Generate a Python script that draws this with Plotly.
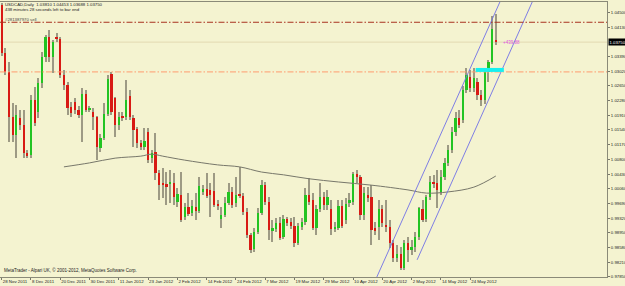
import plotly.graph_objects as go

# ---------------- data ----------------
opens = [
    1.0468, 1.0348, 1.0300, 1.0187, 1.0141, 1.0184, 1.0166, 1.0096, 1.0091, 1.0229,
    1.0199, 1.0272, 1.0338, 1.0388, 1.0338, 1.0388, 1.0383, 1.0292, 1.0267, 1.0212,
    1.0224, 1.0204, 1.0192, 1.0244, 1.0206, 1.0199, 1.0187, 1.0109, 1.0134, 1.0194,
    1.0295, 1.0234, 1.0166, 1.0187, 1.0186, 1.0239, 1.0184, 1.0156, 1.0121, 1.0111,
    1.0149, 1.0083, 1.0098, 1.0046, 1.0018, 1.0017, 1.0020, 1.0020, 0.9973, 0.9990,
    0.9935, 0.9960, 0.9945, 0.9960, 0.9950, 1.0000, 1.0005, 1.0003, 1.0000, 0.9968,
    0.9930, 0.9940, 0.9970, 0.9998, 0.9970, 0.9993, 0.9988, 0.9947, 0.9890, 0.9854,
    0.9897, 0.9945, 1.0015, 0.9973, 0.9900, 0.9905, 0.9920, 0.9885, 0.9930, 0.9922,
    0.9912, 0.9869, 0.9910, 0.9922, 0.9990, 0.9978, 0.9907, 0.9955, 0.9985, 0.9965,
    0.9955, 0.9905, 0.9907, 0.9963, 0.9927, 0.9970, 0.9973, 1.0043, 1.0036, 0.9940,
    0.9990, 0.9985, 0.9907, 0.9910, 0.9955, 0.9915, 0.9910, 0.9869, 0.9832, 0.9842,
    0.9806, 0.9869, 0.9852, 0.9859, 0.9885, 0.9955, 0.9930, 0.9985, 1.0023, 1.0020,
    0.9998, 1.0036, 1.0071, 1.0103, 1.0149, 1.0184, 1.0179, 1.0254, 1.0287, 1.0260,
    1.0275, 1.0242, 1.0229, 1.0300, 1.0325, 1.0381,
]
highs = [
    1.0473, 1.0360, 1.0325, 1.0222, 1.0217, 1.0204, 1.0204, 1.0103, 1.0242, 1.0262,
    1.0285, 1.0350, 1.0393, 1.0405, 1.0380, 1.0398, 1.0388, 1.0305, 1.0275, 1.0224,
    1.0234, 1.0214, 1.0260, 1.0254, 1.0214, 1.0209, 1.0189, 1.0144, 1.0222, 1.0292,
    1.0300, 1.0237, 1.0199, 1.0199, 1.0280, 1.0254, 1.0192, 1.0161, 1.0129, 1.0159,
    1.0159, 1.0103, 1.0146, 1.0053, 1.0058, 1.0048, 1.0053, 1.0046, 1.0008, 1.0048,
    0.9970, 0.9995, 0.9978, 0.9995, 1.0036, 1.0015, 1.0046, 1.0020, 1.0046, 0.9978,
    0.9960, 0.9985, 1.0020, 1.0010, 1.0036, 1.0061, 0.9995, 0.9957, 0.9895, 0.9907,
    0.9957, 1.0028, 1.0023, 0.9985, 0.9927, 0.9932, 0.9935, 0.9940, 0.9935, 0.9932,
    0.9935, 0.9920, 0.9932, 1.0008, 1.0033, 0.9995, 0.9965, 1.0020, 0.9998, 1.0003,
    0.9978, 0.9922, 0.9978, 0.9978, 0.9983, 0.9995, 1.0048, 1.0053, 1.0041, 1.0010,
    1.0010, 1.0015, 0.9922, 0.9978, 0.9965, 0.9978, 0.9927, 0.9877, 0.9864, 0.9859,
    0.9877, 0.9885, 0.9877, 0.9897, 0.9960, 0.9978, 0.9990, 1.0038, 1.0041, 1.0053,
    1.0053, 1.0083, 1.0116, 1.0161, 1.0199, 1.0204, 1.0265, 1.0310, 1.0305, 1.0310,
    1.0285, 1.0254, 1.0310, 1.0330, 1.0441, 1.04453,
]
lows = [
    1.0340, 1.0292, 1.0124, 1.0124, 1.0083, 1.0154, 1.0083, 1.0083, 1.0083, 1.0164,
    1.0184, 1.0260, 1.0325, 1.0325, 1.0297, 1.0375, 1.0285, 1.0254, 1.0192, 1.0187,
    1.0194, 1.0184, 1.0124, 1.0199, 1.0199, 1.0154, 1.0078, 1.0098, 1.0129, 1.0189,
    1.0192, 1.0136, 1.0154, 1.0176, 1.0179, 1.0179, 1.0111, 1.0109, 1.0103, 1.0103,
    1.0071, 1.0071, 1.0028, 0.9978, 0.9983, 0.9965, 0.9970, 0.9965, 0.9960, 0.9922,
    0.9927, 0.9937, 0.9937, 0.9927, 0.9945, 0.9990, 0.9983, 0.9935, 0.9960, 0.9952,
    0.9907, 0.9935, 0.9965, 0.9957, 0.9960, 0.9983, 0.9940, 0.9882, 0.9844, 0.9847,
    0.9892, 0.9940, 0.9965, 0.9877, 0.9872, 0.9897, 0.9877, 0.9879, 0.9912, 0.9905,
    0.9859, 0.9864, 0.9902, 0.9915, 0.9965, 0.9902, 0.9890, 0.9947, 0.9952, 0.9952,
    0.9890, 0.9897, 0.9902, 0.9907, 0.9917, 0.9960, 0.9965, 1.0020, 0.9927, 0.9927,
    0.9973, 0.9864, 0.9890, 0.9877, 0.9910, 0.9897, 0.9857, 0.9822, 0.9822, 0.9801,
    0.9801, 0.9822, 0.9839, 0.9847, 0.9877, 0.9922, 0.9922, 0.9978, 1.0008, 0.9957,
    0.9990, 1.0028, 1.0063, 1.0096, 1.0139, 1.0159, 1.0171, 1.0247, 1.0249, 1.0249,
    1.0229, 1.0214, 1.0219, 1.0275, 1.0320, 1.03688,
]
closes = [
    1.0348, 1.0300, 1.0187, 1.0141, 1.0192, 1.0166, 1.0096, 1.0088, 1.0229, 1.0171,
    1.0272, 1.0338, 1.0388, 1.0338, 1.0375, 1.0383, 1.0292, 1.0267, 1.0209, 1.0197,
    1.0204, 1.0192, 1.0244, 1.0204, 1.0207, 1.0187, 1.0111, 1.0134, 1.0194, 1.0282,
    1.0199, 1.0166, 1.0187, 1.0186, 1.0229, 1.0187, 1.0154, 1.0121, 1.0111, 1.0126,
    1.0078, 1.0096, 1.0046, 1.0015, 1.0017, 1.0010, 1.0021, 0.9985, 0.9993, 0.9927,
    0.9960, 0.9942, 0.9963, 0.9950, 1.0013, 1.0005, 0.9988, 0.9990, 0.9965, 0.9963,
    0.9940, 0.9970, 0.9998, 0.9965, 0.9990, 0.9988, 0.9947, 0.9890, 0.9852, 0.9897,
    0.9945, 1.0015, 0.9973, 0.9902, 0.9907, 0.9920, 0.9882, 0.9930, 0.9920, 0.9912,
    0.9869, 0.9912, 0.9922, 0.9990, 0.9973, 0.9907, 0.9955, 0.9985, 0.9965, 0.9985,
    0.9905, 0.9910, 0.9963, 0.9912, 0.9968, 0.9978, 1.0043, 1.0036, 0.9940, 0.9995,
    0.9985, 0.9902, 0.9900, 0.9955, 0.9920, 0.9910, 0.9869, 0.9832, 0.9842, 0.9806,
    0.9869, 0.9852, 0.9859, 0.9885, 0.9957, 0.9927, 0.9985, 1.0023, 1.0018, 1.0003,
    1.0036, 1.0071, 1.0103, 1.0149, 1.0184, 1.0166, 1.0254, 1.0292, 1.0260, 1.0285,
    1.0242, 1.0229, 1.0300, 1.0325, 1.0408, 1.0375,
]

date_tick_idx = [0, 8, 16, 24, 32, 40, 48, 56, 64, 72, 80, 88, 96, 104, 112, 120, 128]
date_tick_text = ["28 Nov 2011", "8 Dec 2011", "20 Dec 2011", "30 Dec 2011", "11 Jan 2012",
                  "23 Jan 2012", "2 Feb 2012", "14 Feb 2012", "24 Feb 2012", "7 Mar 2012",
                  "19 Mar 2012", "29 Mar 2012", "10 Apr 2012", "20 Apr 2012", "2 May 2012",
                  "14 May 2012", "24 May 2012"]

price_tick_vals = [1.0450, 1.0413, 1.0339, 1.0302, 1.0265, 1.0228, 1.0191, 1.0154, 1.0117,
                   1.0080, 1.0043, 1.0006, 0.9969, 0.9932, 0.9895, 0.9858, 0.9821, 0.9785]
price_tick_text = ["1.04500", "1.04130", "1.03390", "1.03020", "1.02650", "1.02280", "1.01910",
                   "1.01540", "1.01170", "1.00800", "1.00430", "1.00060", "0.99690", "0.99320",
                   "0.98950", "0.98580", "0.98210", "0.97850"]

ma_idx = [17, 24, 31, 38, 41, 44, 50, 59, 65, 71, 77, 84, 92, 101, 111, 116, 122, 129, 135]
ma_val = [1.0061, 1.0071, 1.0083, 1.0088, 1.0093, 1.0088, 1.0078, 1.0066, 1.0061, 1.0048,
          1.0041, 1.0031, 1.0023, 1.0015, 1.0003, 0.9995, 0.9998, 1.0010, 1.0038]

channel_a_idx = [100, 140]
channel_a_val = [0.97325, 1.0556]
channel_b_idx = [113.5, 148]
channel_b_val = [0.9827, 1.0539]

sell_level = 1.0425
orange_level = 1.0300
bid_price = 1.0375
box_idx = [129.5, 137.2]
box_val = [1.0300, 1.0310]
profit_text = "+439.88"
profit_idx = 136.4
profit_val = 1.0373

# ---------------- figure ----------------
BG = "#f4f3d0"
GREEN = "#22c422"
RED = "#d81a14"
WICK = "#9d9a84"

idx = list(range(len(opens)))
MIN_BODY = 0.00018

up_x, up_base, up_h = [], [], []
dn_x, dn_base, dn_h = [], [], []
for i, o, c in zip(idx, opens, closes):
    lo = min(o, c)
    h = max(abs(c - o), MIN_BODY)
    if c >= o:
        up_x.append(i); up_base.append(lo); up_h.append(h)
    else:
        dn_x.append(i); dn_base.append(lo); dn_h.append(h)

fig = go.Figure()

fig.add_trace(go.Scatter(x=ma_idx, y=ma_val, mode="lines", line=dict(color="#77776a", width=1, shape="spline"),
                         hoverinfo="skip"))

fig.add_trace(go.Bar(x=idx, y=[h - l for h, l in zip(highs, lows)], base=lows, width=0.3,
                     marker=dict(color=WICK, line=dict(width=0))))
fig.add_trace(go.Bar(x=up_x, y=up_h, base=up_base, width=0.62,
                     marker=dict(color=GREEN, line=dict(width=0))))
fig.add_trace(go.Bar(x=dn_x, y=dn_h, base=dn_base, width=0.62,
                     marker=dict(color=RED, line=dict(width=0))))

for xs, ys in ((channel_a_idx, channel_a_val), (channel_b_idx, channel_b_val)):
    fig.add_trace(go.Scatter(x=xs, y=ys, mode="lines", line=dict(color="#7070e6", width=0.9),
                             hoverinfo="skip"))

DASHDOT = "6px,2px,1.5px,2px"
shapes = [
    dict(type="line", xref="paper", x0=0, x1=1, y0=bid_price, y1=bid_price,
         line=dict(color="#e2d9b2", width=1), layer="below"),
    dict(type="line", xref="paper", x0=0, x1=1, y0=sell_level, y1=sell_level,
         line=dict(color="#a8321f", width=1, dash=DASHDOT)),
    dict(type="line", xref="paper", x0=0, x1=1, y0=orange_level, y1=orange_level,
         line=dict(color="#ff9c6e", width=1, dash=DASHDOT)),
    dict(type="rect", x0=box_idx[0], x1=box_idx[1], y0=box_val[0], y1=box_val[1],
         fillcolor="#16f0f0", line=dict(width=0)),
]

FONT = "Liberation Sans, Arial, sans-serif"
TXT = "#222222"
ann = [
    dict(xref="paper", yref="paper", x=0.005, y=0.992, xanchor="left", yanchor="middle",
         text="USDCAD,Daily  1.03810 1.04453 1.03688 1.03750", showarrow=False,
         font=dict(size=4.3, color=TXT, family=FONT)),
    dict(xref="paper", yref="paper", x=0.005, y=0.9727, xanchor="left", yanchor="middle",
         text="438 minutes 28 seconds left to bar end", showarrow=False,
         font=dict(size=4.3, color=TXT, family=FONT)),
    dict(xref="paper", yref="paper", x=0.005, y=0.938, xanchor="left", yanchor="middle",
         text="#281387970 sell", showarrow=False,
         font=dict(size=4.3, color="#444444", family=FONT)),
    dict(xref="paper", yref="paper", x=0.003, y=0.0255, xanchor="left", yanchor="middle",
         text="MetaTrader - Alpari UK, © 2001-2012, MetaQuotes Software Corp.", showarrow=False,
         font=dict(size=4.5, color=TXT, family=FONT)),
    dict(x=profit_idx, y=profit_val, xanchor="left", yanchor="middle", text=profit_text,
         showarrow=False, font=dict(size=4.5, color="#e055e0", family=FONT)),
    dict(xref="paper", x=1, y=bid_price, xanchor="left", yanchor="middle", xshift=1,
         text="1.03750", showarrow=False, bgcolor="#000000", borderpad=0.5,
         font=dict(size=4.3, color="#ffffff", family=FONT)),
]

fig.update_layout(
    width=625, height=286,
    margin=dict(l=0, r=18, t=2, b=9, autoexpand=False),
    plot_bgcolor=BG, paper_bgcolor=BG,
    showlegend=False, barmode="overlay", bargap=0,
    shapes=shapes, annotations=ann,
    font=dict(family=FONT, size=4.4, color=TXT),
    xaxis=dict(range=[-0.464, 165.38], showgrid=False, zeroline=False, automargin=False,
               tickmode="array", tickvals=date_tick_idx, ticktext=date_tick_text,
               ticks="outside", ticklen=2, tickcolor="#77776a", tickwidth=1, tickangle=0,
               ticklabelposition="outside right",
               tickfont=dict(size=4.4, color=TXT, family=FONT),
               showline=True, mirror=True, linecolor="#8a8a78", linewidth=1),
    yaxis=dict(range=[0.97838, 1.0476], side="right", showgrid=False, zeroline=False,
               automargin=False,
               tickmode="array", tickvals=price_tick_vals, ticktext=price_tick_text,
               ticks="outside", ticklen=2, tickcolor="#77776a", tickwidth=1,
               tickfont=dict(size=4.3, color=TXT, family=FONT),
               showline=True, mirror=True, linecolor="#8a8a78", linewidth=1),
)

fig.write_html("out.html")
